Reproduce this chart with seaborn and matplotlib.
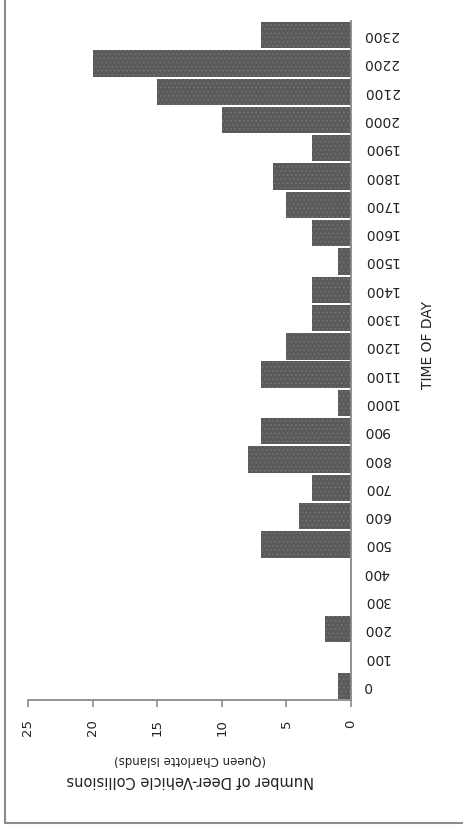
import matplotlib
matplotlib.use("Agg")
import matplotlib.pyplot as plt
import seaborn as sns
import pandas as pd
from matplotlib.lines import Line2D

# Data
times = ["0", "100", "200", "300", "400", "500", "600", "700", "800", "900",
         "1000", "1100", "1200", "1300", "1400", "1500", "1600", "1700",
         "1800", "1900", "2000", "2100", "2200", "2300"]
collisions = [1, 0, 2, 0, 0, 7, 4, 3, 8, 7, 1, 7, 5, 3, 3, 1, 3, 5, 6, 3,
              10, 15, 20, 7]
value_ticks = [0, 5, 10, 15, 20, 25]

sns.set_style("white")
plt.rcParams['font.family'] = ['DejaVu Sans']
plt.rcParams['hatch.linewidth'] = 0.6

df = pd.DataFrame({"time": times, "count": collisions})

W, H = 464, 836
fig = plt.figure(figsize=(W / 100, H / 100), dpi=100)
ax = fig.add_axes([28 / W, (H - 700) / H, (351 - 28) / W, (700 - 21) / H])

sns.barplot(data=df, y="time", x="count", orient="h", order=times[::-1],
            color="#5a5a5a", width=0.93, ax=ax, saturation=1,
            linewidth=0, hatch="....", edgecolor="#747474")

ax.set_xlim(25, 0)
ax.set_ylim(len(times) - 0.5, -0.5)

axis_col = "#8a8a8a"
for s in ["top", "left"]:
    ax.spines[s].set_visible(False)
for s in ["bottom", "right"]:
    ax.spines[s].set_color(axis_col)
    ax.spines[s].set_linewidth(1.3)

ax.set_xticks(value_ticks)
ax.set_xticklabels([str(v) for v in value_ticks], rotation=90,
                   fontsize=9.5, color="#222222")
ax.tick_params(axis="x", direction="out", length=5, width=1.2,
               color=axis_col, pad=9, bottom=True)

ax.yaxis.tick_right()
ax.tick_params(axis="y", length=0, pad=9, labelsize=10,
               labelcolor="#222222", right=True, left=False)
for lab in ax.get_yticklabels():
    lab.set_rotation(180)
    lab.set_ha("left")
    lab.set_va("center")

ax.set_xlabel("")
ax.set_ylabel("")

fig.text(190 / W, 1 - 781 / H, "Number of Deer-Vehicle Collisions",
         rotation=180, ha="center", va="center", fontsize=10.5,
         color="#222222")
fig.text(190 / W, 1 - 760 / H, "(Queen Charlotte Islands)",
         rotation=180, ha="center", va="center", fontsize=8.5,
         color="#222222")
fig.text(428 / W, 1 - 345 / H, "TIME OF DAY", rotation=90,
         ha="center", va="center", fontsize=10, color="#222222")

bx = 5.5 / W
by = (H - 823) / H
fig.lines.append(Line2D([bx, bx], [by, 1.05], transform=fig.transFigure,
                        color="#8c8c8c", linewidth=1.5))
fig.lines.append(Line2D([bx, 1.05], [by, by], transform=fig.transFigure,
                        color="#8c8c8c", linewidth=1.5))

fig.savefig("out.png", dpi=100)
